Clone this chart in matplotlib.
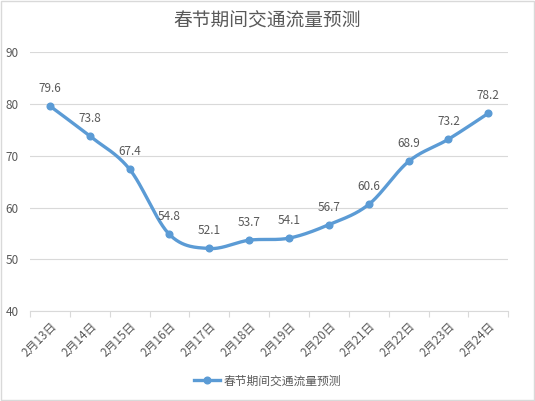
import numpy as np
import matplotlib.pyplot as plt

plt.rcParams['font.family'] = ['Noto Sans CJK SC', 'DejaVu Sans']

days = ['2月13日', '2月14日', '2月15日', '2月16日', '2月17日', '2月18日',
        '2月19日', '2月20日', '2月21日', '2月22日', '2月23日', '2月24日']
traffic = [79.6, 73.8, 67.4, 54.8, 52.1, 53.7, 54.1, 56.7, 60.6, 68.9, 73.2, 78.2]
title = '春节期间交通流量预测'

blue = '#5B9BD5'
grey_txt = '#595959'
grid_c = '#D9D9D9'


def smooth(xs, ys, n=30):
    # Excel-like smoothed line (Catmull-Rom style bezier)
    xs = np.asarray(xs, float)
    ys = np.asarray(ys, float)
    px = np.concatenate([[xs[0]], xs, [xs[-1]]])
    py = np.concatenate([[ys[0]], ys, [ys[-1]]])
    outx, outy = [], []
    t = np.linspace(0, 1, n)
    for i in range(1, len(px) - 2):
        p0 = np.array([px[i], py[i]])
        p3 = np.array([px[i + 1], py[i + 1]])
        c1 = p0 + (np.array([px[i + 1], py[i + 1]]) - np.array([px[i - 1], py[i - 1]])) / 6
        c2 = p3 - (np.array([px[i + 2], py[i + 2]]) - np.array([px[i], py[i]])) / 6
        b = ((1 - t) ** 3)[:, None] * p0 + (3 * (1 - t) ** 2 * t)[:, None] * c1 \
            + (3 * (1 - t) * t ** 2)[:, None] * c2 + (t ** 3)[:, None] * p3
        outx.extend(b[:, 0])
        outy.extend(b[:, 1])
    return outx, outy


fig = plt.figure(figsize=(5.35, 4.01), dpi=100)
ax = fig.add_axes([0.056, 0.224, 0.894, 0.646])

x = np.arange(len(days))
sx, sy = smooth(x, traffic)
ax.plot(sx, sy, color=blue, lw=2.4, solid_capstyle='round', zorder=3)
ax.plot(x, traffic, 'o', color=blue, ms=4.8, zorder=4)
# legend proxy
ax.plot([], [], '-o', color=blue, lw=2.4, ms=4.8, label=title)

for xi, v in zip(x, traffic):
    ax.annotate(f'{v}', (xi, v), xytext=(0, 8), textcoords='offset points',
                ha='center', va='bottom', fontsize=8.5, color=grey_txt)

ax.set_ylim(40, 90)
ax.set_yticks([40, 50, 60, 70, 80, 90])
ax.set_xlim(-0.5, len(days) - 0.5)
ax.set_xticks(np.arange(-0.5, len(days)), minor=False)
ax.set_xticklabels([])
ax.set_xticks(x, minor=True)
ax.set_xticklabels(days, minor=True, rotation=45, ha='right', rotation_mode='anchor',
                   fontsize=8.5, color=grey_txt)
ax.tick_params(axis='x', which='major', length=4, color=grid_c, width=0.8)
ax.tick_params(axis='x', which='minor', length=0, pad=6)
ax.tick_params(axis='y', length=0, labelsize=8.5, labelcolor=grey_txt, pad=8)
ax.grid(axis='y', color=grid_c, lw=0.8)
ax.set_axisbelow(True)
for s in ['top', 'right', 'left']:
    ax.spines[s].set_visible(False)
ax.spines['bottom'].set_color(grid_c)
ax.spines['bottom'].set_zorder(1)

fig.text(0.5, 0.948, title, ha='center', va='center', fontsize=13.5, color=grey_txt)
fig.legend(loc='center', bbox_to_anchor=(0.5, 0.05), frameon=False, fontsize=8.5,
           labelcolor=grey_txt, handlelength=2.2, handletextpad=0.3)

fig.patches.append(plt.Rectangle((0.002, 0.002), 0.996, 0.996, transform=fig.transFigure,
                                 fill=False, edgecolor='#D9D9D9', lw=1))
fig.savefig('out.png', dpi=100)
